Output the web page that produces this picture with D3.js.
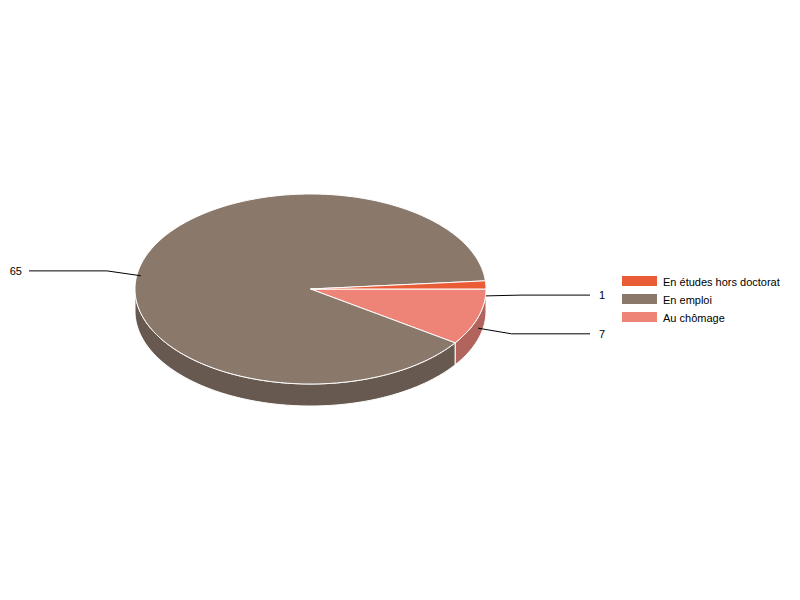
<!DOCTYPE html>
<html>
<head>
<meta charset="utf-8">
<script src="https://cdn.jsdelivr.net/npm/d3@7"></script>
<style>
  body { margin: 0; background: #fff; }
  text { font-family: "Liberation Sans", Arial, sans-serif; font-size: 11px; fill: #000; }
</style>
</head>
<body>
<svg></svg>
<script>
const size = { w: 800, h: 600 };
const categories = ["En études hors doctorat", "En emploi", "Au chômage"];
const values = [1, 65, 7];
const topColors = ["#EA5C36", "#8A786B", "#EE8377"];
const sideColors = ["#A3402A", "#67594F", "#B1645B"];

const pie3d = { cx: 310.5, cy: 289, rx: 175.5, ry: 95, depth: 22 };

const svg = d3.select("svg").attr("width", size.w).attr("height", size.h);
const containerG = svg.append("g");

// slices go counter-clockwise from east in data order, so feed pie reversed
const data = categories.map((c, i) => ({ name: c, value: values[i], i: i }));
const arcs = d3
	.pie()
	.sort(null)
	.value((d) => d.value)
	.startAngle(0)
	.endAngle(2 * Math.PI)(data.slice().reverse());
// screen angle: 0 = east, clockwise positive
arcs.forEach((a) => {
	a.a0 = a.startAngle;
	a.a1 = a.endAngle;
	a.mid = (a.a0 + a.a1) / 2;
});

function pt(t, k = 1, dy = 0) {
	return [pie3d.cx + pie3d.rx * k * Math.cos(t), pie3d.cy + pie3d.ry * k * Math.sin(t) + dy];
}

function arcPoints(a0, a1, dy) {
	const n = Math.max(2, Math.ceil((a1 - a0) / 0.02));
	return d3.range(n + 1).map((j) => pt(a0 + ((a1 - a0) * j) / n, 1, dy));
}

const line = d3.line();

// walls (front half only)
const wallsG = containerG.append("g").attr("stroke", "white").attr("stroke-width", 1);
arcs.forEach((a) => {
	const s = Math.max(a.a0, 0);
	const e = Math.min(a.a1, Math.PI);
	if (e <= s) return;
	const top = arcPoints(s, e, 0);
	const bottom = arcPoints(s, e, pie3d.depth).reverse();
	wallsG
		.append("path")
		.attr("d", line(top.concat(bottom)) + "Z")
		.attr("fill", sideColors[a.data.i]);
});

// tops
const topsG = containerG.append("g").attr("stroke", "white").attr("stroke-width", 1);
arcs.forEach((a) => {
	const pts = [[pie3d.cx, pie3d.cy]].concat(arcPoints(a.a0, a.a1, 0));
	topsG
		.append("path")
		.attr("d", line(pts) + "Z")
		.attr("fill", topColors[a.data.i])
		.attr("stroke-linejoin", "round");
});

// labels
const labelG = containerG.append("g");
arcs.forEach((a) => {
	const right = Math.cos(a.mid) >= 0;
	const p0 = pt(a.mid, 1, pie3d.depth / 2);
	const p1 = pt(a.mid, 1.2, pie3d.depth / 2);
	const p2 = [right ? 590 : 29, p1[1]];
	labelG
		.append("path")
		.attr("d", line([p0, p1, p2]))
		.attr("fill", "none")
		.attr("stroke", "#000")
		.attr("stroke-width", 1);
	labelG
		.append("text")
		.attr("x", right ? 599 : 22)
		.attr("y", p1[1] + 4)
		.attr("text-anchor", right ? "start" : "end")
		.text(a.data.value);
});

// legend
const legendG = containerG.append("g");
categories.forEach((c, i) => {
	legendG
		.append("rect")
		.attr("x", 622)
		.attr("y", 276 + i * 18)
		.attr("width", 35)
		.attr("height", 10)
		.attr("fill", topColors[i]);
	legendG
		.append("text")
		.attr("x", 663)
		.attr("y", 286 + i * 18)
		.text(c);
});
</script>
</body>
</html>
